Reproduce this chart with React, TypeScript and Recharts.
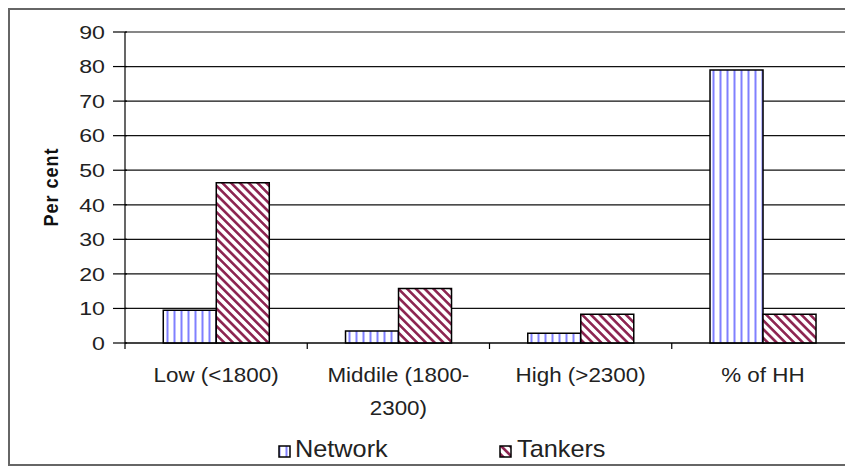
import { BarChart, Bar, XAxis, YAxis, CartesianGrid, Legend } from "recharts";

const categories = ["Low (<1800)", "Middile (1800-2300)", "High (>2300)", "% of HH"];
const network = [9.5, 3.5, 2.8, 79];
const tankers = [46.4, 15.8, 8.3, 8.3];
const yTicks = [0, 10, 20, 30, 40, 50, 60, 70, 80, 90];

const series = [
  { key: "network", label: "Network", fill: "url(#netFill)" },
  { key: "tankers", label: "Tankers", fill: "url(#tankFill)" },
];

const data = categories.map((name, i) => ({
  name,
  network: network[i],
  tankers: tankers[i],
}));

const FONT = "'Liberation Sans', Arial, sans-serif";
const W = 844;
const H = 454;

// Excel style patterns: blue vertical stripes, maroon diagonal hatching
function Patterns({ suffix = "" }: { suffix?: string }) {
  return (
    <defs>
      <pattern id={`netFill${suffix}`} patternUnits="userSpaceOnUse" width={7} height={7}>
        <rect width={7} height={7} fill="#fff" />
        <line x1={3.5} y1={0} x2={3.5} y2={7} stroke="#8080ff" strokeWidth={2} />
      </pattern>
      <pattern
        id={`tankFill${suffix}`}
        patternUnits="userSpaceOnUse"
        width={6.2}
        height={6.2}
        patternTransform="rotate(-45)"
      >
        <rect width={6.2} height={6.2} fill="#fff" />
        <line x1={3.1} y1={0} x2={3.1} y2={6.2} stroke="#8c2350" strokeWidth={2.6} />
      </pattern>
    </defs>
  );
}

function CatTick(props: any) {
  const { x, y, payload } = props;
  const half = payload.offset ?? 0;
  const lines = String(payload.value).replace(/-(?=\d)/, "-\n").split("\n");
  return (
    <g>
      <line x1={x - half} x2={x - half} y1={y} y2={y + 6} stroke="#000" strokeWidth={1.2} />
      <text
        transform={`translate(${x},${y + 39}) scale(1.12,1)`}
        textAnchor="middle"
        fontFamily={FONT}
        fontSize={20}
        fill="#222"
      >
        {lines.map((l, i) => (
          <tspan key={i} x={0} dy={i === 0 ? 0 : 33}>
            {l}
          </tspan>
        ))}
      </text>
    </g>
  );
}

function ValTick(props: any) {
  const { x, y, payload } = props;
  return (
    <g>
      <line x1={x - 12} x2={x + 2} y1={y} y2={y} stroke="#000" strokeWidth={1.2} />
      <text
        transform={`translate(${x - 20},${y}) scale(1.22,1)`}
        textAnchor="end"
        dominantBaseline="central"
        fontFamily={FONT}
        fontSize={19}
        fill="#222"
      >
        {payload.value}
      </text>
    </g>
  );
}

const renderYLabel = () => (
  <text
    transform="translate(41,177) scale(1.15,1) rotate(-90)"
    textAnchor="middle"
    dominantBaseline="central"
    fontFamily={FONT}
    fontSize={18}
    fontWeight="bold"
    letterSpacing={1}
    fill="#111"
  >
    Per cent
  </text>
);

const legendPos = [
  { marker: 269, text: 285 },
  { marker: 490, text: 507 },
];

const renderLegend = () => (
  <svg width={W} height={40} style={{ display: "block" }}>
    <Patterns suffix="L" />
    {series.map((s, i) => (
      <g key={s.key}>
        <rect
          x={legendPos[i].marker}
          y={22}
          width={11}
          height={11}
          fill={i === 0 ? "url(#netFillL)" : "url(#tankFillL)"}
          stroke="#000"
          strokeWidth={1.5}
        />
        <text
          transform={`translate(${legendPos[i].text},33) scale(1.1,1)`}
          fontFamily={FONT}
          fontSize={23}
          fill="#222"
        >
          {s.label}
        </text>
      </g>
    ))}
  </svg>
);

export default function App() {
  return (
    <div
      style={{
        width: 845,
        height: 458,
        borderTop: "2px solid #666",
        borderLeft: "2px solid #666",
        borderBottom: "2px solid #666",
        boxSizing: "border-box",
        overflow: "hidden",
        background: "#fff",
      }}
    >
      <BarChart
        width={W}
        height={H}
        data={data}
        margin={{ top: 22, right: 0, left: 0, bottom: 0 }}
        barCategoryGap="21%"
        barGap={0}
      >
        <Patterns />
        <CartesianGrid vertical={false} stroke="#111" strokeWidth={1.2} />
        <XAxis
          dataKey="name"
          interval={0}
          height={81}
          tickSize={0}
          tickMargin={0}
          tickLine={false}
          axisLine={{ stroke: "#000", strokeWidth: 1.2 }}
          tick={<CatTick />}
        />
        <YAxis
          width={115}
          domain={[0, 90]}
          ticks={yTicks}
          interval={0}
          tickSize={0}
          tickMargin={0}
          tickLine={false}
          axisLine={{ stroke: "#000", strokeWidth: 1.2 }}
          tick={<ValTick />}
          label={renderYLabel}
        />
        <Legend
          verticalAlign="bottom"
          height={40}
          content={renderLegend}
          wrapperStyle={{ left: 0, width: W }}
        />
        {series.map((s) => (
          <Bar
            key={s.key}
            dataKey={s.key}
            name={s.label}
            fill={s.fill}
            stroke="#000"
            strokeWidth={1.5}
            isAnimationActive={false}
          />
        ))}
      </BarChart>
    </div>
  );
}
